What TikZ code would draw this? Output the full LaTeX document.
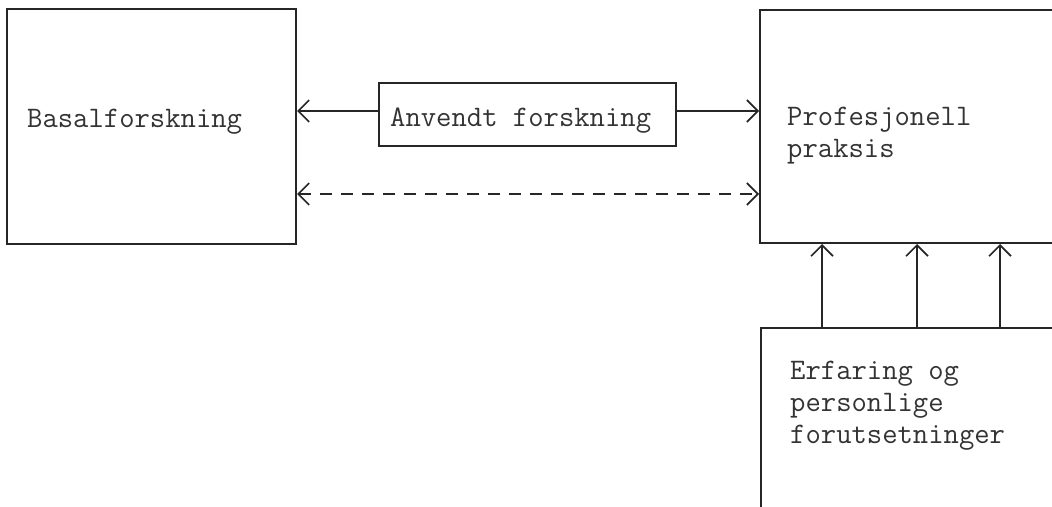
\documentclass[tikz,border=0pt]{standalone}
\usepackage{fontspec}
\usetikzlibrary{arrows.meta}
\begin{document}
\begin{tikzpicture}[x=1pt,y=-1pt,
  box/.style={draw=black!85, line width=2pt, inner sep=0pt},
  lbl/.style={inner sep=0pt, font=\ttfamily\fontsize{29.8}{32}\selectfont, text=black!80, align=left},
  arr/.style={draw=black!85, line width=1.6pt, -{Straight Barb[length=11pt,width=22pt,line width=1.6pt]}},
  darr/.style={arr, {Straight Barb[length=11pt,width=22pt,line width=1.6pt]}-{Straight Barb[length=11pt,width=22pt,line width=1.6pt]}, dash pattern=on 12pt off 9pt}
]
\useasboundingbox (0,0) rectangle (1052,506);
\begin{scope}
\clip (0,0) rectangle (1052,506);
\node[box, minimum width=289pt, minimum height=235pt] (basal) at (151.5,126.5) {};
\node[box, minimum width=297pt, minimum height=63pt] (anv) at (527.5,114.5) {};
\node[box, minimum width=302pt, minimum height=233pt] (prof) at (911,126.5) {};
\node[box, minimum width=301pt, minimum height=192pt] (erf) at (911.5,424) {};
\end{scope}
\node[lbl, anchor=base west] (basalt) at (27,127) {Basalforskning};
\node[lbl, anchor=base west] (anvt) at (390,126) {Anvendt forskning};
\node[lbl, anchor=base west] (proft) at (787,157) {Profesjonell\\praksis};
\node[lbl, anchor=base west] (erft) at (790,443) {Erfaring og\\personlige\\forutsetninger};
\draw[arr] (anv.west |- 0,111) -- (basal.east |- 0,111);
\draw[arr] (anv.east |- 0,111) -- (prof.west |- 0,111);
\draw[darr] (basal.east |- 0,194) -- (prof.west |- 0,194);
\draw[arr] (erf.north -| 822,0) -- (prof.south -| 822,0);
\draw[arr] (erf.north -| 917,0) -- (prof.south -| 917,0);
\draw[arr] (erf.north -| 1000,0) -- (prof.south -| 1000,0);
\end{tikzpicture}
\end{document}
